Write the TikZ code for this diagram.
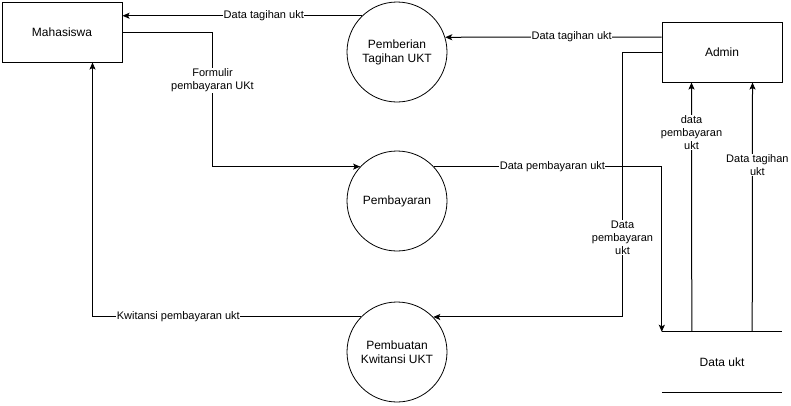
\documentclass[tikz,border=0pt]{standalone}
\usepackage{fontspec}
\setmainfont{Liberation Sans}
\usetikzlibrary{arrows.meta}
\begin{document}
\begin{tikzpicture}[x = 1pt, y = -1pt,
  every node/.style = {font = \fontsize{12}{14}\selectfont},
  entity/.style = {draw, line width = 1pt, minimum width = 120pt, minimum height = 60pt, inner sep = 0pt},
  process/.style = {draw, circle, line width = 0.8pt, minimum size = 100pt, inner sep = 0pt, align = center},
  store/.style = {minimum width = 120pt, minimum height = 60pt, inner sep = 0pt},
  flow/.style = {line width = 1pt, -{Stealth[length = 7pt, width = 6pt, inset = 1.5pt]}},
  lbl/.style = {fill = white, inner sep = 0.5pt, align = center, font = \fontsize{11}{13}\selectfont}]
\useasboundingbox (0, 0) rectangle (791, 405);

\node[entity] (mhs) at (62, 32) {Mahasiswa};
\node[entity] (admin) at (722, 52) {Admin};
\node[process] (tagih) at (397, 52) {Pemberian\\Tagihan UKT};
\node[process] (bayar) at (397, 201) {Pembayaran};
\node[process] (kwit) at (397, 352) {Pembuatan\\Kwitansi UKT};
\node[store] (dukt) at (722, 362) {Data ukt};

\draw[line width = 1pt] (dukt.north west) -- (dukt.north east);
\draw[line width = 1pt] (dukt.south west) -- (dukt.south east);

\draw[flow] (tagih.134) -- node[lbl, pos = 0.41] {Data tagihan ukt} (tagih.134 -| mhs.east);
\draw[flow] ([yshift = 15pt]admin.west) -- node[lbl, pos = 0.415] {Data tagihan ukt} (tagih.17.5);
\draw[flow] (mhs.east) -- ++(90, 0) |- node[lbl, pos = 0.18] {Formulir\\pembayaran UKt} (bayar.137);
\draw[flow] (bayar.43) -| node[lbl, pos = 0.26] {Data pembayaran ukt} (dukt.north west);
\draw[flow] ([xshift = 30pt]dukt.north west) -- node[lbl, pos = 0.8] {data\\pembayaran\\ukt} ([xshift = 30pt]admin.south west);
\draw[flow] ([xshift = -30pt]dukt.north east) -- node[lbl, pos = 0.67, xshift = 5pt] {Data tagihan\\ukt} ([xshift = -30pt]admin.south east);
\draw[flow] (admin.west) -- ++(-39, 0) |- node[lbl, pos = 0.35] {Data\\pembayaran\\ukt} (kwit.44.4);
\draw[flow] (kwit.136) -| node[lbl, pos = 0.34] {Kwitansi pembayaran ukt} ([xshift = -30pt]mhs.south east);

\end{tikzpicture}
\end{document}
